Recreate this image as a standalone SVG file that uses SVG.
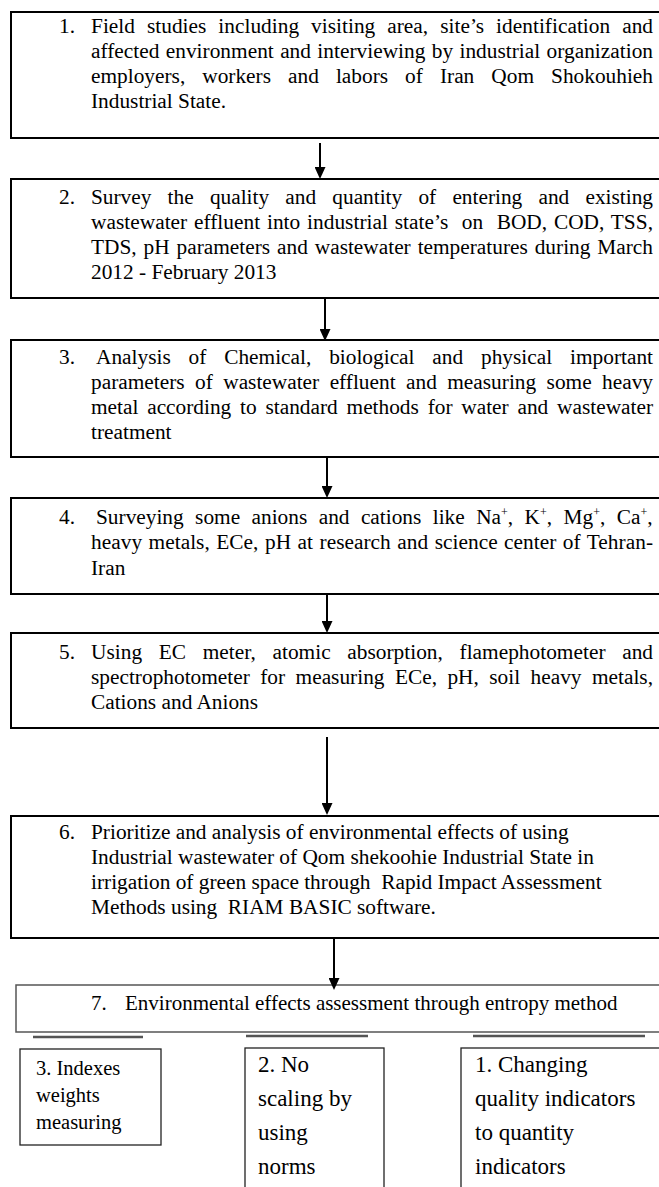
<svg xmlns="http://www.w3.org/2000/svg" width="659" height="1187" viewBox="0 0 659 1187">
<defs>
<style>
.box{fill:#fff;stroke:#000;stroke-width:2}
.thin{fill:#fff;stroke:#555;stroke-width:1.5}
.sb{fill:#fff;stroke:#222;stroke-width:1.3}
.t{font-family:"Liberation Serif","Times New Roman",serif;font-size:21.33px;fill:#000}
.s{font-family:"Liberation Serif","Times New Roman",serif;font-size:20.5px;fill:#000}
.m{font-family:"Liberation Serif","Times New Roman",serif;font-size:23px;fill:#000}
.c{stroke:#000;stroke-width:2;fill:none}
.bar{stroke:#555;stroke-width:2.5}
</style>
<marker id="ah" viewBox="0 0 12 11" refX="8" refY="5.5" markerWidth="12" markerHeight="11" orient="auto" markerUnits="userSpaceOnUse">
<path d="M0,0 L12,5.5 L0,11 z" fill="#000"/>
</marker>
</defs>
<rect width="659" height="1187" fill="#fff"/>

<g id="step1">
<rect class="box" x="11" y="12" width="700" height="126"/>
<text class="t" x="59" y="33">1.</text>
<text class="t" x="91" y="33" style="word-spacing:6.6px" textLength="562" lengthAdjust="spacing">Field studies including visiting area, site’s identification and</text>
<text class="t" x="91" y="58" style="word-spacing:1px" textLength="562" lengthAdjust="spacing">affected environment and interviewing by industrial organization</text>
<text class="t" x="91" y="83" style="word-spacing:11.7px" textLength="562" lengthAdjust="spacing">employers, workers and labors of Iran Qom Shokouhieh</text>
<text class="t" x="91" y="108">Industrial State.</text>
</g>

<g id="step2">
<rect class="box" x="11" y="179" width="700" height="119"/>
<text class="t" x="59" y="204">2.</text>
<text class="t" x="91" y="204" style="word-spacing:10.9px" textLength="562" lengthAdjust="spacing">Survey the quality and quantity of entering and existing</text>
<text class="t" x="91" y="229" style="word-spacing:1.4px;white-space:pre" textLength="562" lengthAdjust="spacing">wastewater effluent into industrial state’s  on  BOD, COD, TSS,</text>
<text class="t" x="91" y="254" style="word-spacing:1.6px" textLength="562" lengthAdjust="spacing">TDS, pH parameters and wastewater temperatures during March</text>
<text class="t" x="91" y="279">2012 - February 2013</text>
</g>

<g id="step3">
<rect class="box" x="11" y="340" width="700" height="117"/>
<text class="t" x="59" y="364">3.</text>
<text class="t" x="96" y="364" style="word-spacing:12.5px" textLength="557" lengthAdjust="spacing">Analysis of Chemical, biological and physical important</text>
<text class="t" x="91" y="389" style="word-spacing:5.1px" textLength="562" lengthAdjust="spacing">parameters of wastewater effluent and measuring some heavy</text>
<text class="t" x="91" y="414" style="word-spacing:3.5px" textLength="562" lengthAdjust="spacing">metal according to standard methods for water and wastewater</text>
<text class="t" x="91" y="439">treatment</text>
</g>

<g id="step4">
<rect class="box" x="11" y="498" width="700" height="96"/>
<text class="t" x="59" y="524">4.</text>
<text class="t" x="96" y="524" style="word-spacing:6.1px">Surveying some anions and cations like Na<tspan dy="-8" font-size="12">+</tspan><tspan dy="8">, K</tspan><tspan dy="-8" font-size="12">+</tspan><tspan dy="8">, Mg</tspan><tspan dy="-8" font-size="12">+</tspan><tspan dy="8">, Ca</tspan><tspan dy="-8" font-size="12">+</tspan><tspan dy="8">,</tspan></text>
<text class="t" x="91" y="549" style="word-spacing:1.1px" textLength="562" lengthAdjust="spacing">heavy metals, ECe, pH at research and science center of Tehran-</text>
<text class="t" x="91" y="575">Iran</text>
</g>

<g id="step5">
<rect class="box" x="11" y="633" width="700" height="95"/>
<text class="t" x="59" y="659">5.</text>
<text class="t" x="91" y="659" style="word-spacing:11.3px" textLength="562" lengthAdjust="spacing">Using EC meter, atomic absorption, flamephotometer and</text>
<text class="t" x="91" y="684" style="word-spacing:5.1px" textLength="562" lengthAdjust="spacing">spectrophotometer for measuring ECe, pH, soil heavy metals,</text>
<text class="t" x="91" y="709">Cations and Anions</text>
</g>

<g id="step6">
<rect class="box" x="11" y="816" width="700" height="122"/>
<text class="t" x="59" y="839">6.</text>
<text class="t" x="91" y="839">Prioritize and analysis of environmental effects of using</text>
<text class="t" x="91" y="864">Industrial wastewater of Qom shekoohie Industrial State in</text>
<text class="t" x="91" y="889" style="white-space:pre">irrigation of green space through  Rapid Impact Assessment</text>
<text class="t" x="91" y="914" style="white-space:pre">Methods using  RIAM BASIC software.</text>
</g>

<g id="step7">
<rect class="thin" x="16" y="985" width="700" height="47"/>
<text class="t" x="91" y="1010" style="font-size:21px">7.</text>
<text class="t" x="125" y="1010" style="font-size:21px">Environmental effects assessment through entropy method</text>
</g>

<g id="sub3">
<line class="bar" x1="33" y1="1037" x2="143" y2="1037"/>
<rect class="sb" x="20" y="1049" width="141" height="96"/>
<text class="s" x="36" y="1075">3. Indexes</text>
<text class="s" x="36" y="1102">weights</text>
<text class="s" x="36" y="1129">measuring</text>
</g>

<g id="sub2">
<line class="bar" x1="246" y1="1036" x2="368" y2="1036"/>
<rect class="sb" x="245" y="1048" width="139" height="160"/>
<text class="m" x="258" y="1072">2. No</text>
<text class="m" x="258" y="1106">scaling by</text>
<text class="m" x="258" y="1140">using</text>
<text class="m" x="258" y="1174">norms</text>
</g>

<g id="sub1">
<line class="bar" x1="473" y1="1036" x2="645" y2="1036"/>
<rect class="sb" x="461" y="1048" width="260" height="160"/>
<text class="m" x="475" y="1072">1. Changing</text>
<text class="m" x="475" y="1106">quality indicators</text>
<text class="m" x="475" y="1140">to quantity</text>
<text class="m" x="475" y="1174">indicators</text>
</g>

<g id="connectors">
<line class="c" x1="320" y1="143" x2="320" y2="175" marker-end="url(#ah)"/>
<line class="c" x1="325" y1="298" x2="325" y2="337" marker-end="url(#ah)"/>
<line class="c" x1="327" y1="457" x2="327" y2="494" marker-end="url(#ah)"/>
<line class="c" x1="327" y1="594" x2="327" y2="629" marker-end="url(#ah)"/>
<line class="c" x1="327" y1="737" x2="327" y2="811" marker-end="url(#ah)"/>
<line class="c" x1="334" y1="938" x2="334" y2="986" marker-end="url(#ah)"/>
</g>
</svg>
